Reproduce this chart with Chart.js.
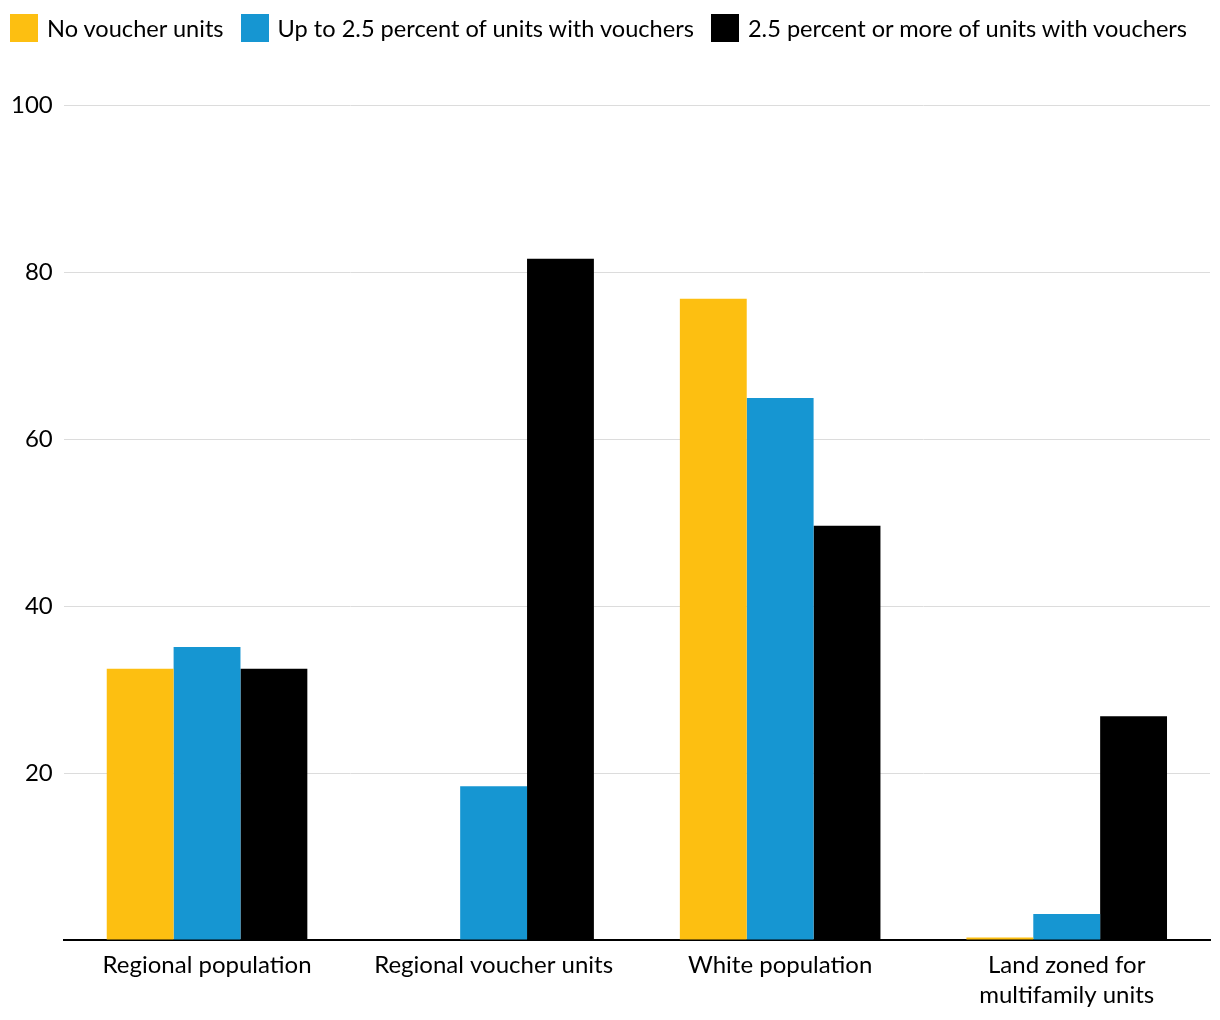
<!DOCTYPE html>
<html>
<head>
<meta charset="utf-8">
<script src="https://cdn.jsdelivr.net/npm/chart.js@4/dist/chart.umd.min.js"></script>
<style>
html,body{margin:0;padding:0;background:#fff;}
#wrap{position:relative;width:1220px;height:1020px;}
#legend{position:absolute;left:10px;top:14px;display:flex;align-items:center;font-family:Lato,sans-serif;font-size:23.6px;color:#000;white-space:nowrap;}
#legend .item{display:flex;align-items:center;margin-right:17px;}
#legend .box{width:28px;height:28px;margin-right:9px;}
canvas{position:absolute;left:0;top:0;}
</style>
</head>
<body>
<div id="wrap"><canvas id="c" width="1220" height="1020"></canvas><div id="legend"></div></div>
<script>
const categories = ["Regional population", "Regional voucher units", "White population", ["Land zoned for", "multifamily units"]];
const seriesNames = ["No voucher units", "Up to 2.5 percent of units with vouchers", "2.5 percent or more of units with vouchers"];
const noVoucher = [32.5, 0, 76.8, 0.3];
const upTo25 = [35.1, 18.4, 64.9, 3.1];
const over25 = [32.5, 81.6, 49.6, 26.8];
const yTicks = [0, 20, 40, 60, 80, 100];
const colors = ["#fdbf11", "#1696d2", "#000000"];

Chart.defaults.font.family = "Lato";
Chart.defaults.color = "#000";

const chart = new Chart(document.getElementById("c"), {
  type: "bar",
  data: {
    labels: categories,
    datasets: [noVoucher, upTo25, over25].map((d, i) => ({
      label: seriesNames[i],
      data: d,
      backgroundColor: colors[i],
      borderWidth: 0,
      categoryPercentage: 0.7,
      barPercentage: 1.0
    }))
  },
  options: {
    responsive: false,
    animation: false,
    layout: { padding: { left: 0, right: 10, top: 105, bottom: 0 } },
    plugins: {
      legend: { display: false },
      tooltip: { enabled: false }
    },
    scales: {
      x: {
        grid: { display: false, drawTicks: false },
        border: { display: true, color: "#000", width: 2 },
        ticks: { font: { size: 24, lineHeight: 1.25 }, color: "#000", padding: 10, maxRotation: 0 }
      },
      y: {
        min: 0,
        max: 100,
        afterBuildTicks: (axis) => { axis.ticks = yTicks.map(v => ({ value: v })); },
        grid: { color: "#dcdcdc", lineWidth: 1, drawTicks: false },
        border: { display: false },
        ticks: {
          font: { size: 24 },
          color: "#000",
          padding: 11,
          callback: (v) => v === 0 ? "" : v
        }
      }
    }
  }
});

const legend = document.getElementById("legend");
chart.data.datasets.forEach((ds) => {
  const item = document.createElement("div");
  item.className = "item";
  const box = document.createElement("span");
  box.className = "box";
  box.style.background = ds.backgroundColor;
  const txt = document.createElement("span");
  txt.textContent = ds.label;
  item.appendChild(box);
  item.appendChild(txt);
  legend.appendChild(item);
});
</script>
</body>
</html>
